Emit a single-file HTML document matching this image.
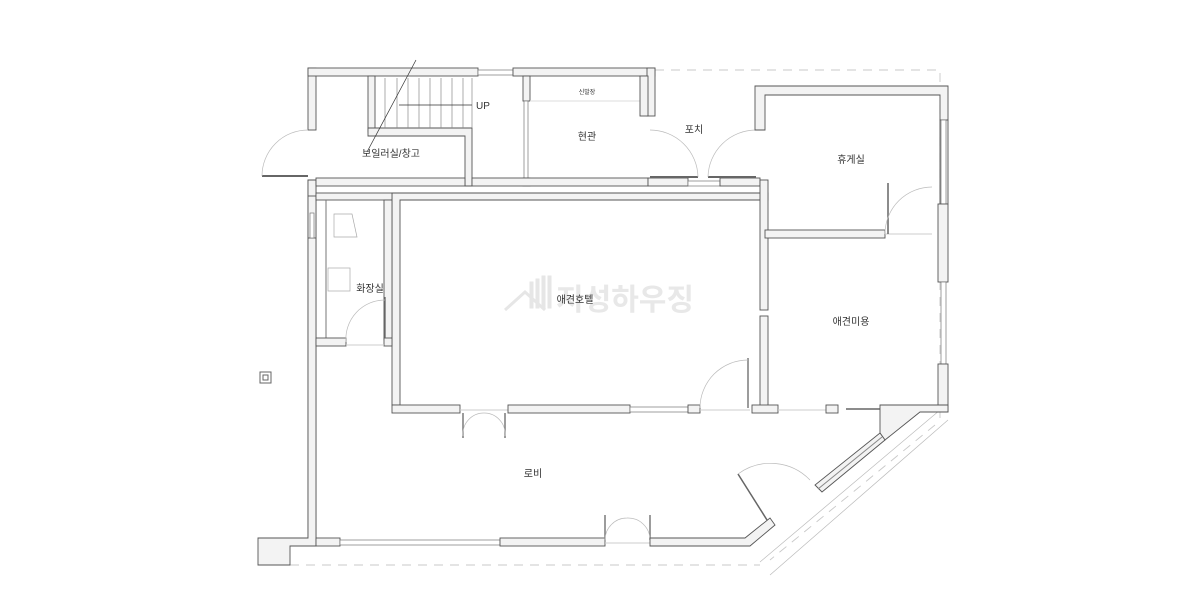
<!DOCTYPE html>
<html><head><meta charset="utf-8"><style>
html,body{margin:0;padding:0;background:#fff;width:1200px;height:600px;overflow:hidden}
svg{display:block}
.w{fill:#f3f3f3;stroke:#555;stroke-width:0.9}
.win{fill:#fff;stroke:#777;stroke-width:0.7}
.thin{fill:none;stroke:#bbb;stroke-width:0.7}
.dash{fill:none;stroke:#c8c8c8;stroke-width:0.9;stroke-dasharray:9 7}
.lab{font-family:"Liberation Sans","Noto Sans CJK KR",sans-serif;font-size:10px;fill:#333;text-anchor:middle}
</style></head><body>
<svg width="1200" height="600" viewBox="0 0 1200 600" xmlns="http://www.w3.org/2000/svg">
<!-- dashed outlines -->
<path class="dash" d="M655 70 H940 V418"/>
<path class="dash" d="M290 565 H760"/>
<path class="thin" d="M948 420 L770 575 M940 410 L760 562"/>
<path class="dash" d="M935 425 L770 560"/>
<!-- watermark -->
<g fill="#e6e6e6" stroke="#e6e6e6">
<path d="M505 310 L525 292 L545 310" fill="none" stroke-width="3"/>
<rect x="530" y="282" width="3" height="26"/><rect x="536" y="279" width="3" height="29"/><rect x="542" y="276" width="3" height="32"/><rect x="548" y="276" width="3" height="32"/>
</g>
<text x="625" y="310" font-family="Liberation Sans,'Noto Sans CJK KR',sans-serif" font-size="30" font-weight="bold" fill="#e8e8e8" text-anchor="middle">지성하우징</text>

<!-- left outer wall -->
<rect class="w" x="308" y="68" width="8" height="62"/>
<rect class="w" x="308" y="180" width="8" height="358"/>
<polygon class="w" points="258,538 308,538 308,180 316,180 316,546 290,546 290,565 258,565"/>
<rect class="w" x="308" y="196" width="8" height="42"/>
<rect class="win" x="310" y="213" width="4" height="25"/>
<!-- left door -->
<line x1="262" y1="176" x2="308" y2="176" stroke="#666" stroke-width="2"/>
<path class="thin" d="M262 176 A46 46 0 0 1 308 130"/>
<!-- top wall -->
<rect class="w" x="308" y="68" width="170" height="8"/>
<rect class="win" x="478" y="70" width="35" height="5"/>
<rect class="w" x="513" y="68" width="142" height="8"/>
<rect class="w" x="647" y="68" width="8" height="48"/>
<!-- stair -->
<rect class="w" x="368" y="76" width="7" height="56"/>
<polygon class="w" points="368,128 472,128 472,186 465,186 465,136 368,136"/>
<g stroke="#888" stroke-width="0.7">
<line x1="385" y1="78" x2="385" y2="128"/><line x1="397" y1="78" x2="397" y2="128"/><line x1="408" y1="78" x2="408" y2="128"/><line x1="419" y1="78" x2="419" y2="128"/><line x1="430" y1="78" x2="430" y2="128"/><line x1="441" y1="78" x2="441" y2="128"/><line x1="452" y1="78" x2="452" y2="128"/><line x1="463" y1="78" x2="463" y2="128"/><line x1="472" y1="78" x2="472" y2="128"/>
</g>
<line x1="399" y1="105" x2="472" y2="105" stroke="#333" stroke-width="0.8"/>
<line x1="416" y1="60" x2="367" y2="152" stroke="#333" stroke-width="0.7"/>
<text x="476" y="109" font-family="Liberation Sans,sans-serif" font-size="10" fill="#333">UP</text>
<!-- 현관 -->
<rect class="w" x="523" y="76" width="7" height="25"/>
<rect class="win" x="524" y="101" width="4" height="78"/>
<rect class="w" x="523" y="178" width="7" height="8"/>
<line x1="530" y1="101" x2="640" y2="101" stroke="#ddd"/>
<rect class="w" x="640" y="76" width="8" height="40"/>
<!-- bottom of boiler/entry -->
<rect class="w" x="316" y="178" width="149" height="8"/>
<rect class="w" x="472" y="178" width="176" height="8"/>
<!-- porch bottom -->
<rect class="w" x="648" y="178" width="40" height="8"/>
<rect class="win" x="688" y="181" width="32" height="5"/>
<rect class="w" x="720" y="178" width="40" height="8"/>
<line x1="650" y1="177" x2="698" y2="177" stroke="#666" stroke-width="2"/>
<path class="thin" d="M698 177 A48 48 0 0 0 650 130"/>
<line x1="708" y1="177" x2="756" y2="177" stroke="#666" stroke-width="2"/>
<path class="thin" d="M708 177 A48 48 0 0 1 756 130"/>
<!-- big room top/left -->
<polygon class="w" points="392,193 768,193 768,200 400,200 400,405 392,405"/>
<!-- 휴게실 box -->
<polygon class="w" points="755,86 948,86 948,120 940,120 940,95 765,95 765,130 755,130"/>
<rect class="w" x="760" y="180" width="8" height="130"/>
<rect class="w" x="760" y="316" width="8" height="96"/>
<rect class="w" x="765" y="230" width="120" height="8"/>
<line x1="885" y1="234" x2="932" y2="234" stroke="#ccc"/>
<line x1="888" y1="183" x2="888" y2="234" stroke="#666" stroke-width="1.5"/>
<path class="thin" d="M885 234 A47 47 0 0 1 932 187"/>
<!-- right wall -->
<rect class="w" x="940" y="120" width="8" height="84"/>
<rect class="win" x="941" y="120" width="5" height="84"/>
<rect class="w" x="938" y="204" width="10" height="78"/>
<rect class="win" x="941" y="282" width="5" height="82"/>
<rect class="w" x="938" y="364" width="10" height="48"/>
<!-- big room bottom -->
<rect class="w" x="392" y="405" width="68" height="8"/>
<line x1="460" y1="410" x2="508" y2="410" stroke="#ccc"/>
<line x1="463" y1="413" x2="463" y2="438" stroke="#666" stroke-width="1.3"/>
<line x1="505" y1="413" x2="505" y2="438" stroke="#666" stroke-width="1.3"/>
<path class="thin" d="M463 436 A21 21 0 0 1 484 413 A21 21 0 0 1 505 436"/>
<rect class="w" x="508" y="405" width="122" height="8"/>
<rect class="win" x="630" y="407" width="58" height="5"/>
<rect class="w" x="688" y="405" width="12" height="8"/>
<line x1="700" y1="410" x2="750" y2="410" stroke="#ccc"/>
<line x1="748" y1="358" x2="748" y2="408" stroke="#666" stroke-width="1.3"/>
<path class="thin" d="M700 408 A48 48 0 0 1 748 360"/>
<rect class="w" x="752" y="405" width="26" height="8"/>
<line x1="778" y1="410" x2="826" y2="410" stroke="#ccc"/>
<rect class="w" x="826" y="405" width="12" height="8"/>
<line x1="846" y1="409" x2="880" y2="409" stroke="#666" stroke-width="1.5"/>
<polygon class="w" points="880,405 948,405 948,412 920,412 885,440 880,433"/>
<!-- diagonal window -->
<polygon class="w" points="880,433 885,440 822,492 815,485"/>
<line x1="882" y1="437" x2="818" y2="489" stroke="#888"/>
<!-- toilet -->
<rect class="w" x="316" y="193" width="76" height="7"/>
<line x1="326" y1="200" x2="326" y2="338" stroke="#777"/>
<rect class="w" x="384" y="200" width="8" height="140"/>
<rect class="w" x="316" y="338" width="30" height="8"/>
<rect class="w" x="384" y="338" width="8" height="8"/>
<line x1="346" y1="345" x2="384" y2="345" stroke="#ccc"/>
<line x1="385" y1="297" x2="385" y2="338" stroke="#666" stroke-width="1.3"/>
<path class="thin" d="M346 342 A39 39 0 0 1 385 300"/>
<path d="M334 214 H352 L357 237 H334 Z" fill="#fff" stroke="#aaa" stroke-width="0.7"/>
<rect x="328" y="268" width="22" height="23" fill="#fff" stroke="#aaa" stroke-width="0.7"/>
<!-- small square -->
<rect x="260" y="372" width="11" height="11" fill="#fff" stroke="#666"/>
<rect x="263" y="375" width="5" height="5" fill="#fff" stroke="#666"/>
<!-- lobby bottom -->
<rect class="w" x="316" y="538" width="24" height="8"/>
<rect class="win" x="340" y="540" width="160" height="5"/>
<rect class="w" x="500" y="538" width="105" height="8"/>
<line x1="605" y1="543" x2="650" y2="543" stroke="#ccc"/>
<line x1="605" y1="515" x2="605" y2="540" stroke="#666" stroke-width="1.3"/>
<line x1="650" y1="515" x2="650" y2="540" stroke="#666" stroke-width="1.3"/>
<path class="thin" d="M605 540 A22 22 0 0 1 627 518 A22 22 0 0 1 650 540"/>
<polygon class="w" points="650,538 745,538 770,518 775,525 750,546 650,546"/>
<line x1="767" y1="520" x2="738" y2="474" stroke="#666" stroke-width="1.5"/>
<path class="thin" d="M738 474 A55 55 0 0 1 810 480"/>
<!-- labels -->
<text class="lab" x="391" y="157">보일러실/창고</text>
<text class="lab" x="587" y="94" style="font-size:6px">신발장</text>
<text class="lab" x="587" y="140">현관</text>
<text class="lab" x="694" y="133">포치</text>
<text class="lab" x="851" y="163">휴게실</text>
<text class="lab" x="370" y="292">화장실</text>
<text class="lab" x="575" y="303">애견호텔</text>
<text class="lab" x="851" y="325">애견미용</text>
<text class="lab" x="533" y="477">로비</text>
</svg>
</body></html>
